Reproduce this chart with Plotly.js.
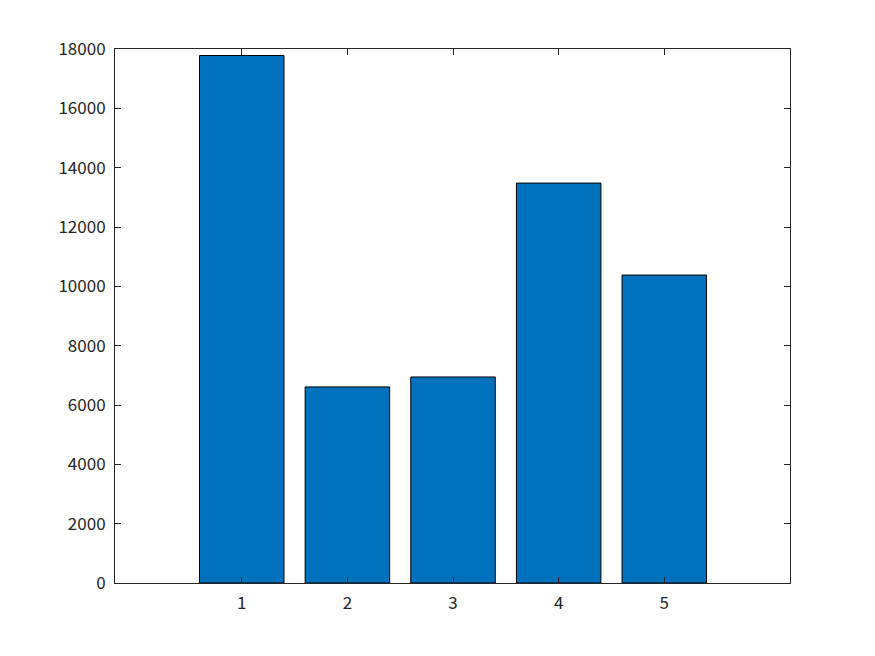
<!DOCTYPE html>
<html>
<head>
<meta charset="utf-8">
<script src="https://cdn.plot.ly/plotly-3.0.1.min.js"></script>
<style>html,body{margin:0;padding:0;background:#fff;}#chart{width:875px;height:656px;}</style>
</head>
<body>
<div id="chart"></div>
<script>
const categories = [1, 2, 3, 4, 5];
const values = [17780, 6610, 6945, 13480, 10380];
const yTicks = [0, 2000, 4000, 6000, 8000, 10000, 12000, 14000, 16000, 18000];

const trace = {
  type: 'bar',
  x: categories,
  y: values,
  width: 0.8,
  marker: {color: '#0072BD', line: {color: '#000000', width: 1}},
  hoverinfo: 'x+y'
};

const axisFont = {family: '"Noto Sans CJK JP", "DejaVu Sans", sans-serif', size: 17, color: '#262626'};

const layout = {
  width: 875, height: 656,
  margin: {l: 114.5, r: 84.7, t: 49.3, b: 72.7, pad: 0},
  paper_bgcolor: '#ffffff', plot_bgcolor: '#ffffff',
  showlegend: false,
  bargap: 0,
  xaxis: {
    range: [-0.2, 6.19], tickvals: categories, ticktext: categories.map(String),
    ticks: 'inside', ticklen: 6, tickcolor: '#262626', tickwidth: 1,
    showline: true, linecolor: '#262626', linewidth: 1, mirror: 'ticks',
    showgrid: false, zeroline: false, tickfont: axisFont, ticklabelstandoff: 5
  },
  yaxis: {
    range: [0, 18000], tickvals: yTicks, ticktext: yTicks.map(String),
    ticks: 'inside', ticklen: 6, tickcolor: '#262626', tickwidth: 1,
    showline: true, linecolor: '#262626', linewidth: 1, mirror: 'ticks',
    showgrid: false, zeroline: false, tickfont: axisFont, ticklabelstandoff: 5
  }
};

Plotly.newPlot('chart', [trace], layout, {staticPlot: true, displayModeBar: false});
</script>
</body>
</html>
